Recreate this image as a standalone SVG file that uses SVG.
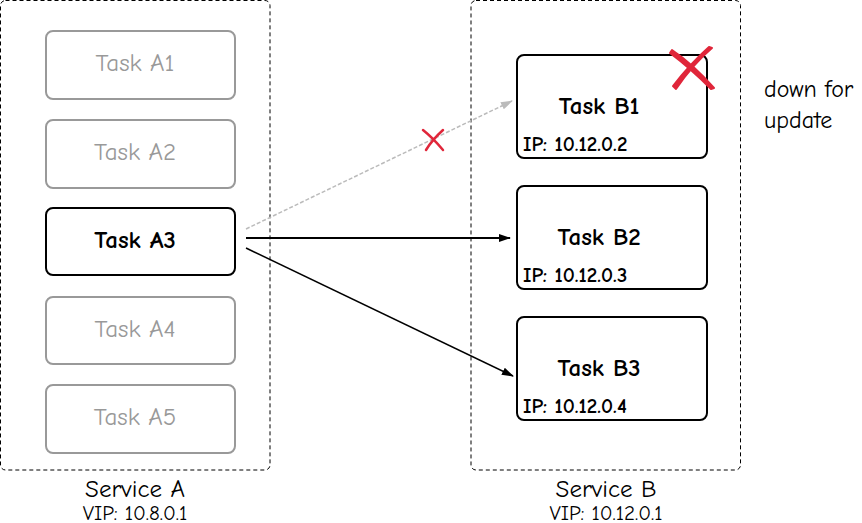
<svg xmlns="http://www.w3.org/2000/svg" width="862" height="523" viewBox="0 0 862 523">
<style>
text{font-family:"Comic Neue","DejaVu Sans","Noto Sans",sans-serif;}
.svc{fill:none;stroke:#000;stroke-width:1;stroke-dasharray:4 3;}
.on{fill:#fff;stroke:#000;stroke-width:2;}
.off{fill:#fff;stroke:#999;stroke-width:2;}
.t{font-size:25px;text-anchor:middle;font-weight:700;}
.tg{font-size:25px;text-anchor:middle;fill:#999;}
.ip{font-size:21px;font-weight:700;}
.lbl{font-size:25px;text-anchor:middle;}
.vip{font-size:21px;text-anchor:middle;}
.x{fill:none;stroke:#e0263a;stroke-linecap:round;}
</style>
<defs>
<marker id="ah" markerWidth="12" markerHeight="10" refX="11" refY="5" orient="auto" markerUnits="userSpaceOnUse">
<path d="M0,1 L12,5 L0,9 Z" fill="#000"/>
</marker>
<marker id="ahg" markerWidth="12" markerHeight="10" refX="11" refY="5" orient="auto" markerUnits="userSpaceOnUse">
<path d="M0,1 L12,5 L0,9 Z" fill="#bbb"/>
</marker>
</defs>
<g id="serviceA">
<rect class="svc" x="0.5" y="0.5" width="269.5" height="469.5" rx="5"/>
<text class="lbl" x="135" y="497">Service A</text>
<text class="vip" x="135" y="520">VIP: 10.8.0.1</text>
</g>
<g id="serviceB">
<rect class="svc" x="471" y="0.5" width="269.5" height="469.5" rx="5"/>
<text class="lbl" x="606" y="497">Service B</text>
<text class="vip" x="606" y="520">VIP: 10.12.0.1</text>
</g>
<g id="taskA1"><rect class="off" x="46" y="31" width="189" height="68" rx="7"/><text class="tg" x="135" y="71">Task A1</text></g>
<g id="taskA2"><rect class="off" x="46" y="120" width="189" height="68" rx="7"/><text class="tg" x="135" y="160">Task A2</text></g>
<g id="taskA3"><rect class="on" x="46" y="208" width="189" height="67" rx="7"/><text class="t" x="135" y="248">Task A3</text></g>
<g id="taskA4"><rect class="off" x="46" y="297" width="189" height="67" rx="7"/><text class="tg" x="135" y="337">Task A4</text></g>
<g id="taskA5"><rect class="off" x="46" y="385" width="189" height="68" rx="7"/><text class="tg" x="135" y="425">Task A5</text></g>
<g id="taskB1"><rect class="on" x="517" y="55" width="190" height="103" rx="7"/><text class="t" x="599" y="114">Task B1</text><text class="ip" x="523" y="151">IP: 10.12.0.2</text></g>
<g id="taskB2"><rect class="on" x="517" y="186" width="190" height="103" rx="7"/><text class="t" x="599" y="245">Task B2</text><text class="ip" x="523" y="282">IP: 10.12.0.3</text></g>
<g id="taskB3"><rect class="on" x="517" y="317" width="190" height="103" rx="7"/><text class="t" x="599" y="376">Task B3</text><text class="ip" x="523" y="413">IP: 10.12.0.4</text></g>
<g id="note"><text font-size="24" x="764" y="97">down for</text><text font-size="24" x="764" y="128">update</text></g>
<g id="connectors">
<line x1="246" y1="229" x2="512" y2="101" stroke="#bbb" stroke-width="1.5" stroke-dasharray="4 2" marker-end="url(#ahg)"/>
<line x1="246" y1="238" x2="510" y2="238" stroke="#000" stroke-width="2" marker-end="url(#ah)"/>
<line x1="246" y1="248" x2="513" y2="376" stroke="#000" stroke-width="1.5" marker-end="url(#ah)"/>
</g>
<g id="marks">
<path class="x" stroke-width="2.5" d="M423,130 Q433,138 443,150 M443,130 Q432,140 426,150"/>
<path d="M672,50 Q693,64 714,88 L711,89 Q690,68 670,53 Z M712,48 Q693,64 676,89 L673,86 Q690,64 709,47 Z" fill="#e0263a" stroke="#e0263a" stroke-width="2" stroke-linejoin="round"/>
</g>
</svg>
